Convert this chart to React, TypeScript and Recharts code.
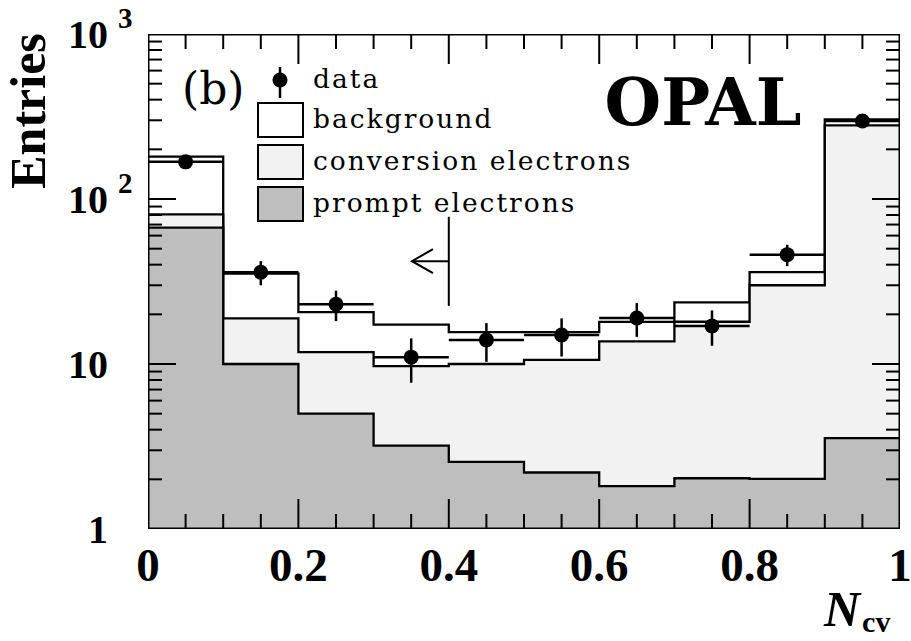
import { ComposedChart, Area, Scatter, ErrorBar, XAxis, YAxis, ReferenceLine, Legend } from "recharts";

// bin edges and centres of the N_cv histogram
const BIN_EDGES = [0, 0.1, 0.2, 0.3, 0.4, 0.5, 0.6, 0.7, 0.8, 0.9, 1.0];
const BIN_CENTERS = [0.05, 0.15, 0.25, 0.35, 0.45, 0.55, 0.65, 0.75, 0.85, 0.95];

// stacked MC components (entries per bin)
const PROMPT = [67, 10.0, 5.0, 3.2, 2.55, 2.2, 1.82, 2.03, 2.01, 3.55];
const CONVERSION = [13.6, 8.9, 6.8, 6.5, 7.45, 8.4, 11.9, 16.0, 28.0, 276];
const BACKGROUND = [100, 16.4, 8.8, 7.6, 5.6, 5.0, 4.3, 5.6, 6.0, 24];

// data points
const DATA = [168, 36, 23, 11, 14, 15, 19, 17, 46, 297];
const DATA_ERR = [13, 6, 4.8, 3.3, 3.7, 3.9, 4.4, 4.1, 6.8, 17.2];
const HALF_BIN = 0.05;

// axis ticks
const X_DOMAIN = [0, 1];
const Y_DOMAIN = [1, 1000];
const X_TICKS = [0, 0.05, 0.1, 0.15, 0.2, 0.25, 0.3, 0.35, 0.4, 0.45, 0.5, 0.55, 0.6, 0.65, 0.7, 0.75, 0.8, 0.85, 0.9, 0.95, 1];
const X_MAJOR = [0, 0.2, 0.4, 0.6, 0.8, 1];
const X_MAJOR_LABELS = ["0", "0.2", "0.4", "0.6", "0.8", "1"];
const Y_TICKS = [1, 2, 3, 4, 5, 6, 7, 8, 9, 10, 20, 30, 40, 50, 60, 70, 80, 90, 100, 200, 300, 400, 500, 600, 700, 800, 900, 1000];
const Y_MAJOR = [1, 10, 100, 1000];
const Y_LABEL_BASE = ["1", "10", "10", "10"];
const Y_LABEL_EXP = ["", "", "2", "3"];

// cut annotation
const CUT_X = 0.4;
const CUT_Y = [78, 22.5];
const ARROW_Y = 42;
const ARROW_TIP_X = 0.351;

const LEGEND_LABELS = ["background", "conversion electrons", "prompt electrons"];
const FILL_BKG = "#ffffff";
const FILL_CONV = "#f2f2f2";
const FILL_PROMPT = "#bebebe";
const LEGEND_FILLS = [FILL_BKG, FILL_CONV, FILL_PROMPT];

const histRows = BIN_EDGES.map((x, i) => {
  const b = Math.min(i, PROMPT.length - 1);
  const prompt = PROMPT[b];
  const conversion = prompt + CONVERSION[b];
  return { x, prompt, conversion, total: conversion + BACKGROUND[b] };
});

const points = BIN_CENTERS.map((x, i) => ({ x, y: DATA[i], ey: DATA_ERR[i], ex: HALF_BIN }));

const isMajorX = (v: number) => X_MAJOR.some((m) => Math.abs(m - v) < 1e-6);

// inward tick marks on all four sides of the frame
const tickRows = [
  ...X_TICKS.map((x) => ({ x, y: Y_DOMAIN[0], side: "bottom", major: isMajorX(x) })),
  ...X_TICKS.map((x) => ({ x, y: Y_DOMAIN[1], side: "top", major: isMajorX(x) })),
  ...Y_TICKS.map((y) => ({ x: X_DOMAIN[0], y, side: "left", major: Y_MAJOR.includes(y) })),
  ...Y_TICKS.map((y) => ({ x: X_DOMAIN[1], y, side: "right", major: Y_MAJOR.includes(y) })),
];

const frameRows = [
  { x: X_DOMAIN[0], y: Y_DOMAIN[0] },
  { x: X_DOMAIN[1], y: Y_DOMAIN[0] },
  { x: X_DOMAIN[1], y: Y_DOMAIN[1] },
  { x: X_DOMAIN[0], y: Y_DOMAIN[1] },
  { x: X_DOMAIN[0], y: Y_DOMAIN[0] },
];

const TICK_FONT = "'Liberation Serif', 'Times New Roman', serif";
const TEXT_FONT = "'DejaVu Serif', serif";

function TickMark(props: any) {
  const { cx, cy, payload } = props;
  const vertical = payload.side === "bottom" || payload.side === "top";
  const len = payload.major ? (vertical ? 30 : 28) : vertical ? 15 : 14;
  const dx = payload.side === "left" ? len : payload.side === "right" ? -len : 0;
  const dy = payload.side === "bottom" ? -len : payload.side === "top" ? len : 0;
  return <line x1={cx} y1={cy} x2={cx + dx} y2={cy + dy} stroke="#000" strokeWidth={2} />;
}

function XLabel(props: any) {
  const { x, y, payload } = props;
  const idx = X_MAJOR.findIndex((m) => Math.abs(m - payload.value) < 1e-6);
  if (idx < 0) return <g />;
  return (
    <text x={x} y={y + 52} textAnchor="middle" fontFamily={TICK_FONT} fontWeight="bold" fontSize={47} fill="#000">
      {X_MAJOR_LABELS[idx]}
    </text>
  );
}

function YLabel(props: any) {
  const { x, y, payload } = props;
  const idx = Y_MAJOR.indexOf(payload.value);
  if (idx < 0) return <g />;
  return (
    <g fontFamily={TICK_FONT} fontWeight="bold" fill="#000">
      <text x={x - 40} y={y + 14} textAnchor="end" fontSize={40}>
        {Y_LABEL_BASE[idx]}
      </text>
      {Y_LABEL_EXP[idx] && (
        <text x={x - 30} y={y - 6} fontSize={29}>
          {Y_LABEL_EXP[idx]}
        </text>
      )}
    </g>
  );
}

function ArrowShape(props: any) {
  const { x1, y1, x2, y2 } = props;
  return (
    <g stroke="#000" strokeWidth={2} fill="none">
      <line x1={x1} y1={y1} x2={x2} y2={y2} />
      <polyline points={`${x2 + 21},${y2 - 12} ${x2},${y2} ${x2 + 21},${y2 + 12}`} />
    </g>
  );
}

function Overlay() {
  return (
    <svg width={911} height={260} style={{ display: "block" }}>
      <text x={182} y={104} fontFamily={TEXT_FONT} fontSize={44} fill="#000">(b)</text>
      <line x1={280} y1={67} x2={280} y2={98} stroke="#000" strokeWidth={2.5} />
      <circle cx={280} cy={80} r={7.5} fill="#000" />
      <text x={313} y={88} fontFamily={TEXT_FONT} fontSize={26.5} letterSpacing={2} fill="#000">data</text>
      {LEGEND_LABELS.map((label, i) => (
        <g key={label}>
          <rect x={258} y={103 + 42 * i} width={45} height={34} fill={LEGEND_FILLS[i]} stroke="#000" strokeWidth={2} />
          <text x={313} y={128 + 42 * i} fontFamily={TEXT_FONT} fontSize={26.5} letterSpacing={2} fill="#000">
            {label}
          </text>
        </g>
      ))}
      <text x={703} y={125} textAnchor="middle" fontFamily={TEXT_FONT} fontWeight="bold" fontSize={65} fill="#000">
        OPAL
      </text>
    </svg>
  );
}

export default function App() {
  return (
    <div style={{ width: 911, height: 641, background: "#fff" }}>
      <style>{"body{margin:0;background:#fff}"}</style>
      <ComposedChart width={911} height={641} data={histRows} margin={{ top: 34, right: 11, bottom: 111, left: 147 }}>
        <Area type="stepAfter" dataKey="total" fill={FILL_BKG} fillOpacity={1} stroke="#000" strokeWidth={2.3} isAnimationActive={false} dot={false} activeDot={false} />
        <Area type="stepAfter" dataKey="conversion" fill={FILL_CONV} fillOpacity={1} stroke="#000" strokeWidth={2.3} isAnimationActive={false} dot={false} activeDot={false} />
        <Area type="stepAfter" dataKey="prompt" fill={FILL_PROMPT} fillOpacity={1} stroke="#000" strokeWidth={2.3} isAnimationActive={false} dot={false} activeDot={false} />

        <ReferenceLine segment={[{ x: CUT_X, y: CUT_Y[0] }, { x: CUT_X, y: CUT_Y[1] }]} stroke="#000" strokeWidth={2} />
        <ReferenceLine segment={[{ x: CUT_X, y: ARROW_Y }, { x: ARROW_TIP_X, y: ARROW_Y }]} shape={ArrowShape} />

        <Scatter data={tickRows} dataKey="y" isAnimationActive={false} shape={(p: any) => <TickMark {...p} />} />
        <Scatter data={frameRows} dataKey="y" isAnimationActive={false} line={{ stroke: "#000", strokeWidth: 3 }} shape={() => <g />} />

        <Scatter data={points} dataKey="y" isAnimationActive={false} shape={(p: any) => <circle cx={p.cx} cy={p.cy} r={7.5} fill="#000" />}>
          <ErrorBar dataKey="ey" direction="y" width={0} stroke="#000" strokeWidth={2.5} />
          <ErrorBar dataKey="ex" direction="x" width={0} stroke="#000" strokeWidth={2.5} />
        </Scatter>

        <XAxis
          dataKey="x"
          type="number"
          domain={X_DOMAIN}
          ticks={X_TICKS}
          interval={0}
          height={1}
          tickSize={0}
          tickMargin={0}
          tickLine={false}
          axisLine={false}
          allowDataOverflow
          tick={(p: any) => <XLabel {...p} />}
          label={() => (
            <text x={824} y={626} fontFamily={TICK_FONT} fill="#000">
              <tspan fontSize={50} fontStyle="italic" fontWeight="bold">N</tspan>
              <tspan fontSize={30} fontWeight="bold" dx={2} dy={6}>cv</tspan>
            </text>
          )}
        />
        <YAxis
          type="number"
          scale="log"
          domain={Y_DOMAIN}
          ticks={Y_TICKS}
          interval={0}
          width={1}
          tickSize={0}
          tickMargin={0}
          tickLine={false}
          axisLine={false}
          allowDataOverflow
          tick={(p: any) => <YLabel {...p} />}
          label={() => (
            <text x={28} y={111} transform="rotate(-90 28 111)" textAnchor="middle" dominantBaseline="central" fontFamily={TICK_FONT} fontWeight="bold" fontSize={50} fill="#000">
              Entries
            </text>
          )}
        />

        <Legend
          layout="horizontal"
          verticalAlign="middle"
          align="center"
          content={() => <Overlay />}
          wrapperStyle={{ left: 0, top: 0, width: 911, height: 260, pointerEvents: "none" }}
        />
      </ComposedChart>
    </div>
  );
}
